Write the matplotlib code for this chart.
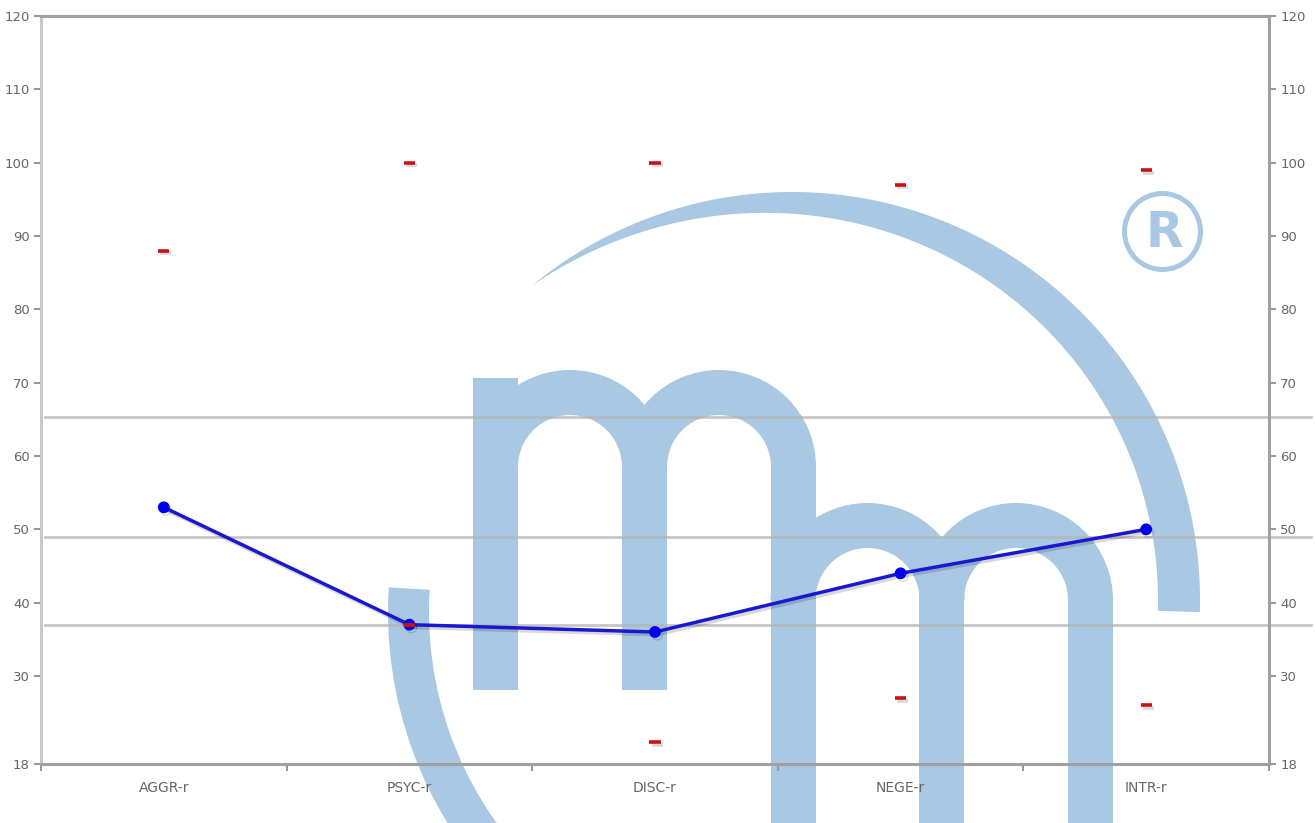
'''
    Perfil de escalas com marca d'agua
'''
import numpy as np
import matplotlib
matplotlib.use('Agg')
from matplotlib import pyplot as plt
from matplotlib import patches, transforms
import matplotlib.patheffects as pe

# Dados do gráfico
categorias = ['AGGR-r', 'PSYC-r', 'DISC-r', 'NEGE-r', 'INTR-r']
valores = [53, 37, 36, 44, 50]
limite_sup = [88, 100, 100, 97, 99]
limite_inf = [np.nan, 37, 21, 27, 26]
linhas_ref = [65.3, 49, 37]
yticks = [18, 30, 40, 50, 60, 70, 80, 90, 100, 110, 120]

fig = plt.figure(figsize=(13.16, 8.23), dpi=100)

# Marca d'agua desenhada em pixels (origem no canto superior esquerdo)
px = transforms.Affine2D().scale(1 / 1316, -1 / 823).translate(0, 1) + fig.transFigure
azul = '#a8c8e4'

def add(p):
    p.set_transform(px)
    p.set_zorder(-5)
    p.set_facecolor(azul)
    p.set_edgecolor('none')
    fig.add_artist(p)

# arco grande (crescente): espessura cresce da ponta esquerda até a direita
t0, t1 = -129.6, 1.7
t = np.radians(np.linspace(t0, t1, 200))
s = np.clip((np.degrees(t) - t0) / (0 - t0), 0, 1)
esp = 42 * (1 - (1 - s) ** 2)
ext = np.column_stack([792 + 408 * np.cos(t), 600 + 408 * np.sin(t)])
inn = np.column_stack([792 + (408 - esp) * np.cos(t), 600 + (408 - esp) * np.sin(t)])
add(patches.Polygon(np.vstack([ext, inn[::-1]]), closed=True))

# arco inferior esquerdo
add(patches.Wedge((792, 612), 404, 90, 183.5, width=41))

# primeiro m
add(patches.Rectangle((473, 378), 45, 312))
add(patches.Rectangle((622, 466), 45, 224))
add(patches.Rectangle((771, 466), 45, 360))
add(patches.Wedge((570, 467), 97, 180, 360, width=45))
add(patches.Wedge((719, 467), 97, 180, 360, width=45))

# segundo m
add(patches.Wedge((867.5, 600), 97, 180, 360, width=45))
add(patches.Wedge((1016, 600), 97, 180, 360, width=45))
add(patches.Rectangle((919, 599), 45, 228))
add(patches.Rectangle((1068, 599), 45, 228))

# simbolo registrado
anel = patches.Circle((1162.5, 231.5), 38, fill=False, transform=px,
                      edgecolor=azul, linewidth=3.6, zorder=-5)
fig.add_artist(anel)
fig.text(1164, 233, 'R', transform=px, ha='center', va='center',
         fontsize=35, fontweight='bold', color=azul, zorder=-5)

# Eixos
ax = fig.add_axes([41 / 1316, 59 / 823, 1228 / 1316, 748 / 823])
ax.set_facecolor('none')
x = np.arange(len(categorias))
ax.set_xlim(-0.5, len(categorias) - 0.5)
ax.set_ylim(18, 120)

for v in linhas_ref:
    ax.axhline(v, xmin=0.003, xmax=1.034, color='#b4b4b4', lw=2, alpha=0.75,
               clip_on=False, zorder=1)

sombra = [pe.SimpleLineShadow(offset=(1.5, -2), shadow_color='k', alpha=0.15), pe.Normal()]
ax.plot(x, valores, color='#1818d0', lw=2.5, marker='o', ms=7.5,
        mfc='#0000ee', mec='#0000ee', zorder=4, path_effects=sombra)
ax.plot(x, limite_sup, ls='none', marker='_', ms=8, mew=2.6, color='#cc1111',
        zorder=5, path_effects=sombra)
ax.plot(x, limite_inf, ls='none', marker='_', ms=8, mew=2.6, color='#cc1111',
        zorder=5, path_effects=sombra)

# Configura os ticks
ax.set_yticks(yticks)
ax.tick_params(axis='y', direction='out', length=5, width=1.5, color='#999999',
               labelcolor='#666666', labelsize=9.5, pad=3, right=True, labelright=True)
ax.set_xticks(np.arange(-0.5, len(categorias), 1))
ax.set_xticklabels([])
ax.set_xticks(x, minor=True)
ax.set_xticklabels(categorias, minor=True)
ax.tick_params(axis='x', which='major', direction='out', length=5, width=1.5, color='#999999')
ax.tick_params(axis='x', which='minor', length=0, pad=12, labelcolor='#666666', labelsize=10)

for lado, cor in [('top', '#a0a0a0'), ('right', '#a0a0a0'), ('bottom', '#a0a0a0'), ('left', '#c8c8c8')]:
    ax.spines[lado].set_color(cor)
    ax.spines[lado].set_linewidth(2.2)

plt.savefig('out.png', dpi=100)
